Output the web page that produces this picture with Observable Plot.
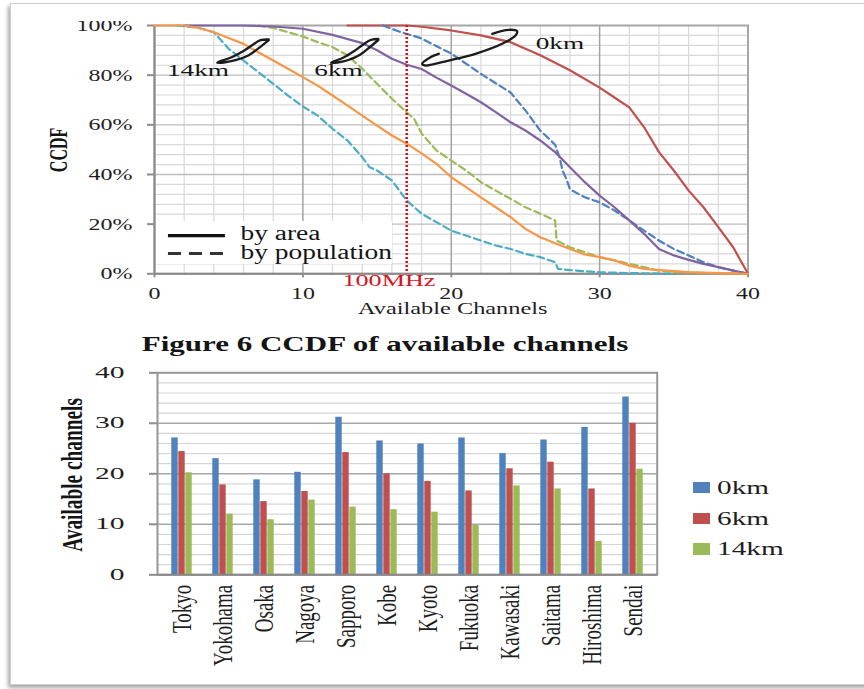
<!DOCTYPE html>
<html>
<head>
<meta charset="utf-8">
<script src="https://cdn.jsdelivr.net/npm/d3@7"></script>
<script src="https://cdn.jsdelivr.net/npm/@observablehq/plot@0.6"></script>
<style>
  html, body { margin: 0; padding: 0; background: #fff; overflow: hidden; }
  #page { position: relative; width: 864px; height: 689px; overflow: hidden; background: #fff; font-family: "Liberation Serif", serif; color: #1e1e1e; }
  #sheet { position: absolute; left: 10px; top: 3px; width: 1000px; height: 680px; border: 1px solid #cfcfcf; box-shadow: -2px 3px 4px rgba(0,0,0,0.35); background: #fff; }
  #ccdf { position: absolute; left: 0; top: 21px; }
  #bars { position: absolute; left: 0; top: 355px; }
  #caption { position: absolute; left: 0; top: 333.8px; width: 770px; text-align: center; font-weight: bold; font-size: 20px; line-height: 20px; transform: scaleX(1.55); white-space: nowrap; color: #141414; }
  .key-swatch { position: absolute; left: 693px; width: 16.6px; height: 11.7px; }
  .key-label { position: absolute; left: 717px; font-size: 19.5px; line-height: 20px; transform: scaleX(1.5); transform-origin: left center; white-space: nowrap; color: #1e1e1e; }
</style>
</head>
<body>
<div id="page">
  <div id="sheet"></div>
  <div id="ccdf"></div>
  <div id="caption">Figure 6 CCDF of available channels</div>
  <div id="bars"></div>
  <div id="bar-key"></div>
</div>
<script>
// ---- CCDF of available channels: [channels, percent] ----
const area0km = [[13,100],[17,100],[18,99.5],[20,98],[22,96],[24,93.3],[26,88],[28,82],[30,75],[31,71],[32,67],[33,59],[34,49],[35,41.6],[36,33.5],[37,26.8],[38,18.8],[39,10.7],[40,0]];
const pop0km = [[15.4,100],[16.6,97.3],[17.9,95],[20,88.7],[22,80.5],[24,73],[25,65.8],[26,57.7],[27,52],[27.3,47],[27.5,41.6],[27.8,37.6],[28,34],[29,30.8],[30,28.8],[31,25.5],[32,21.5],[33,17.4],[34,13.4],[35,10],[36,7.4],[37,4.7],[38,2.7],[39,1.3],[40,0]];
const area6km = [[2,100],[6,100],[8,99.6],[10,98.7],[12,96.2],[14,92.9],[15,90],[16,86.6],[17,84.2],[18,82.5],[19,79],[20,75.8],[21,72.5],[22,69.1],[23,65.1],[24,61],[25,57.7],[26,53.7],[27,49],[28,42.9],[29,36.9],[30,31.5],[31,26.8],[32,21.5],[33,16.1],[34,10],[35,7.4],[36,5.6],[37,4],[38,2.7],[39,1.3],[40,0]];
const pop6km = [[7,100],[8,99],[10,95.6],[11,93.3],[12,91.3],[13,88],[14,82.6],[15,76.5],[16,70.5],[17,65],[17.5,62.4],[18,56.5],[19,49.7],[20,45.6],[21,41.6],[22,36.9],[23,33.5],[24,30.2],[25,26.8],[26,24.2],[27,21.5],[27.1,13.4],[28,10.7],[29,8.7],[30,6.7],[31,5.4],[32,4],[33,2.7],[34,1.3],[35,0.7],[37,0.3],[40,0]];
const area14km = [[0,100],[2,100],[3,99],[4,97.3],[5,95],[6,92.6],[7,89.2],[8,85.9],[9,82.6],[10,79.2],[11,75.8],[12,71.8],[13,67.8],[14,63.7],[15,59.7],[16,55.7],[17,52.4],[18,48.5],[19,44.3],[20,38.9],[21,34.9],[22,30.8],[23,26.8],[24,22.8],[25,18.1],[26,14.7],[27,12.3],[28,10],[29,7.8],[30,6.7],[31,5.4],[32,3.3],[33,2],[34,1.5],[36,0.7],[38,0.3],[40,0]];
const pop14km = [[1.5,100],[3,99],[4,97.3],[5,90.6],[6,85.9],[7,81.2],[8,76.5],[9,71.8],[10,67.4],[11,63.7],[12,58.4],[13,53.7],[14,47],[14.5,42.9],[15,41.6],[16,37.6],[17,29.5],[18,24.2],[19,20.8],[20,17.4],[21,15.4],[22,13.4],[23,11.4],[24,10],[25,8],[26,6.7],[27,4.7],[27.2,2],[28,1.5],[30,0.6],[32,0.3],[35,0]];

// hand-drawn loops tying each label to its pair of curves
const loop14km = [[7.70,94.36],[7.14,94.08],[6.58,92.07],[5.91,89.41],[5.12,86.99],[4.33,85.38],[4.23,84.98],[4.67,85.10],[5.46,86.02],[6.35,88.04],[7.14,91.42],[7.70,94.08]];
const loop6km = [[15.09,94.56],[14.56,94.16],[14.02,92.15],[13.41,89.53],[12.74,87.11],[11.99,85.30],[11.89,84.90],[12.33,85.10],[13.07,86.10],[13.88,88.32],[14.56,91.54],[15.09,94.16]];
const loop0km = [[22.76,96.66],[23.87,98.27],[24.44,97.70],[24.33,95.99],[23.43,92.63],[21.63,88.60],[19.83,85.90],[18.26,83.89],[18.04,84.58],[18.60,87.23],[19.16,88.60]];
const distanceNotes = [{label: "14km", x: 2.93, y: 82.1}, {label: "6km", x: 12.4, y: 82.1}, {label: "0km", x: 27.32, y: 92.9}];

const cutoffChannel = 17;
const cutoffLabel = "100MHz";
const ccdfXTicks = [0, 10, 20, 30, 40];
const ccdfYTicks = [0, 20, 40, 60, 80, 100];

// ---- available channels per city ----
const cities = ["Tokyo", "Yokohama", "Osaka", "Nagoya", "Sapporo", "Kobe", "Kyoto", "Fukuoka", "Kawasaki", "Saitama", "Hiroshima", "Sendai"];
const ch0km  = [27.1, 23.0, 18.8, 20.3, 31.2, 26.5, 25.9, 27.1, 24.0, 26.7, 29.2, 35.2];
const ch6km  = [24.4, 17.8, 14.5, 16.5, 24.2, 20.0, 18.5, 16.6, 21.0, 22.3, 17.0, 30.0];
const ch14km = [20.2, 12.0, 10.9, 14.8, 13.4, 12.9, 12.4,  9.8, 17.6, 17.0,  6.6, 20.9];
const barSeries = ["0km", "6km", "14km"];
const barYTicks = [0, 10, 20, 30, 40];

const colors = {area0: "#C0504D", pop0: "#4F81BD", area6: "#8064A2", pop6: "#9BBB59", area14: "#F79646", pop14: "#4BACC6"};
const barColors = ["#4F81BD", "#C0504D", "#9BBB59"];
const serif = "'Liberation Serif', 'Times New Roman', serif";

// widen glyphs along the baseline (the figure uses a broad serif face)
function widen(root, selector, factor, fontSize) {
  root.querySelectorAll(selector).forEach((t) => {
    if (fontSize) t.setAttribute("font-size", fontSize);
    const len = t.getComputedTextLength();
    t.setAttribute("textLength", (len * factor).toFixed(2));
    t.setAttribute("lengthAdjust", "spacingAndGlyphs");
  });
}
const tagged = (name) => `g[aria-description="${name}"] text`;
function greyTicks(root) {
  root.querySelectorAll('g[aria-label^="x-axis"] path, g[aria-label^="x-axis"] line, g[aria-label^="y-axis"] path, g[aria-label^="y-axis"] line')
    .forEach((p) => { p.setAttribute("stroke", "#8c8c8c"); p.setAttribute("stroke-width", "2"); });
}

const range = (a, b, s) => d3.range(a, b + 1e-9, s);
const ccdfXMinor = range(2, 38, 2).filter((v) => v % 10 !== 0);
const ccdfYMinor = range(4, 96, 4).filter((v) => v % 20 !== 0);
const line = (data, stroke, dashed) => Plot.line(data, {x: (d) => d[0], y: (d) => d[1], stroke, strokeWidth: 2.2, strokeDasharray: dashed ? "7,4" : null});
const loop = (data) => Plot.line(data, {x: (d) => d[0], y: (d) => d[1], stroke: "#1c1c1c", strokeWidth: 2.3, curve: "catmull-rom"});

const ccdf = Plot.plot({
  width: 864, height: 310,
  marginTop: 4, marginBottom: 57.7, marginLeft: 154, marginRight: 116.5,
  style: {background: "transparent", fontFamily: serif, fontSize: "17px", color: "#1e1e1e", overflow: "hidden"},
  x: {domain: [0, 40], ticks: ccdfXTicks, tickSize: 4, tickPadding: 9, label: null},
  y: {domain: [0, 100], ticks: ccdfYTicks, tickSize: 7, tickPadding: 15, tickFormat: (d) => d + "%", label: null},
  marks: [
    Plot.ruleY(ccdfYMinor, {stroke: "#d9d9d9", strokeWidth: 1.2}),
    Plot.ruleX(ccdfXMinor, {stroke: "#d9d9d9", strokeWidth: 1.2}),
    Plot.ruleY([20, 40, 60, 80], {stroke: "#bdbdbd", strokeWidth: 1.3}),
    Plot.ruleX([10, 20, 30], {stroke: "#a3a3a3", strokeWidth: 1.5}),
    // key box for line styles
    Plot.rect([{x1: 0, x2: 16.04, y1: 3.75, y2: 21.06}], {x1: "x1", x2: "x2", y1: "y1", y2: "y2", fill: "white"}),
    Plot.frame({stroke: "#a6a6a6", strokeWidth: 2}),
    Plot.ruleX([0], {stroke: "#8a8a8a", strokeWidth: 2}),
    Plot.ruleY([0], {stroke: "#8a8a8a", strokeWidth: 2}),
    line(area0km, colors.area0, false),
    line(pop0km, colors.pop0, true),
    line(pop6km, colors.pop6, true),
    line(area6km, colors.area6, false),
    line(pop14km, colors.pop14, true),
    line(area14km, colors.area14, false),
    Plot.ruleX([cutoffChannel], {stroke: "#d8141e", strokeWidth: 2.6, strokeDasharray: "2,2"}),
    loop(loop14km), loop(loop6km), loop(loop0km),
    Plot.text(distanceNotes, {x: "x", y: "y", text: "label", fontSize: 17.6, fontFamily: serif, fill: "#141414", ariaDescription: "distance-note"}),
    Plot.ruleY([15.4], {x1: 0.94, x2: 4.78, stroke: "#111", strokeWidth: 3.2}),
    Plot.ruleY([8.2], {x1: 0.94, x2: 4.78, stroke: "#333", strokeWidth: 3, strokeDasharray: "13,8"}),
    Plot.text([{label: "by area", y: 16.0}, {label: "by population", y: 8.74}], {x: 5.8, y: "y", text: "label", textAnchor: "start", fontSize: 20, fontFamily: serif, fill: "#141414", ariaDescription: "style-key"}),
    Plot.text([cutoffLabel], {x: cutoffChannel, text: (d) => d, frameAnchor: "bottom", dy: 12.3, dx: -17.8, fontSize: 17, fontFamily: serif, fill: "#d8141e", ariaDescription: "cutoff-label"}),
    Plot.text(["Available Channels"], {text: (d) => d, frameAnchor: "bottom", dy: 40.5, dx: 1.5, fontSize: 16, fontFamily: serif, fill: "#1e1e1e", ariaDescription: "x-title"}),
    // vertical title, written upward from its lower end
    Plot.text(["CCDF"], {text: (d) => d, frameAnchor: "left", dx: -95.5, dy: 22.5, rotate: -90, textAnchor: "start", fontSize: 25.6, fontWeight: "bold", fontFamily: serif, fill: "#141414", ariaDescription: "y-title"})
  ]
});
document.getElementById("ccdf").append(ccdf);
widen(ccdf, 'g[aria-label^="x-axis"] text, g[aria-label^="y-axis"] text', 1.41);
widen(ccdf, tagged("distance-note"), 1.55);
widen(ccdf, tagged("style-key"), 1.37);
widen(ccdf, tagged("cutoff-label"), 1.54);
widen(ccdf, tagged("x-title"), 1.52);
widen(ccdf, tagged("y-title"), 1 / 1.6);
greyTicks(ccdf);

// ---- grouped bars ----
const rows = cities.map((city, i) => ({city, km0: ch0km[i], km6: ch6km[i], km14: ch14km[i]}));
const barMinor = range(2, 38, 2).filter((v) => v % 10 !== 0);
const inset = 17.3;
const bars = Plot.plot({
  width: 864, height: 330,
  marginTop: 17.3, marginBottom: 110.7, marginLeft: 157, marginRight: 207.3,
  style: {background: "transparent", fontFamily: serif, fontSize: "16px", color: "#1e1e1e"},
  x: {domain: cities, padding: 0, tickSize: 0, tickPadding: 10, tickRotate: -90, label: null},
  y: {domain: [0, 40], ticks: barYTicks, tickSize: 8, tickPadding: 25, label: null},
  marks: [
    Plot.ruleY(barMinor, {stroke: "#d6d6d6", strokeWidth: 1.2}),
    Plot.ruleY([10, 20, 30], {stroke: "#a8a8a8", strokeWidth: 1.5}),
    Plot.frame({stroke: "#969696", strokeWidth: 2}),
    Plot.barY(rows, {x: "city", y: "km0", fill: barColors[0], insetLeft: inset, insetRight: inset, dx: -7}),
    Plot.barY(rows, {x: "city", y: "km6", fill: barColors[1], insetLeft: inset, insetRight: inset}),
    Plot.barY(rows, {x: "city", y: "km14", fill: barColors[2], insetLeft: inset, insetRight: inset, dx: 7}),
    Plot.ruleY([0], {stroke: "#8a8a8a", strokeWidth: 2}),
    Plot.text(["Available channels"], {text: (d) => d, frameAnchor: "left", dx: -85, dy: 78, rotate: -90, textAnchor: "start", fontSize: 29, fontWeight: "bold", fontFamily: serif, fill: "#141414", ariaDescription: "y-title"})
  ]
});
document.getElementById("bars").append(bars);
widen(bars, 'g[aria-label^="y-axis"] text', 1.85);
widen(bars, 'g[aria-label^="x-axis"] text', 1 / 1.46, 27.7);
widen(bars, tagged("y-title"), 1 / 1.5);
greyTicks(bars);

// key for the bar series
const key = document.getElementById("bar-key");
const keyTops = [481.7, 512.7, 543.3];
barSeries.forEach((name, i) => {
  const sw = document.createElement("div");
  sw.className = "key-swatch";
  sw.style.top = keyTops[i] + "px";
  sw.style.background = barColors[i];
  key.append(sw);
  const lb = document.createElement("div");
  lb.className = "key-label";
  lb.style.top = (keyTops[i] - 4.2) + "px";
  lb.textContent = name;
  key.append(lb);
});
</script>
</body>
</html>
